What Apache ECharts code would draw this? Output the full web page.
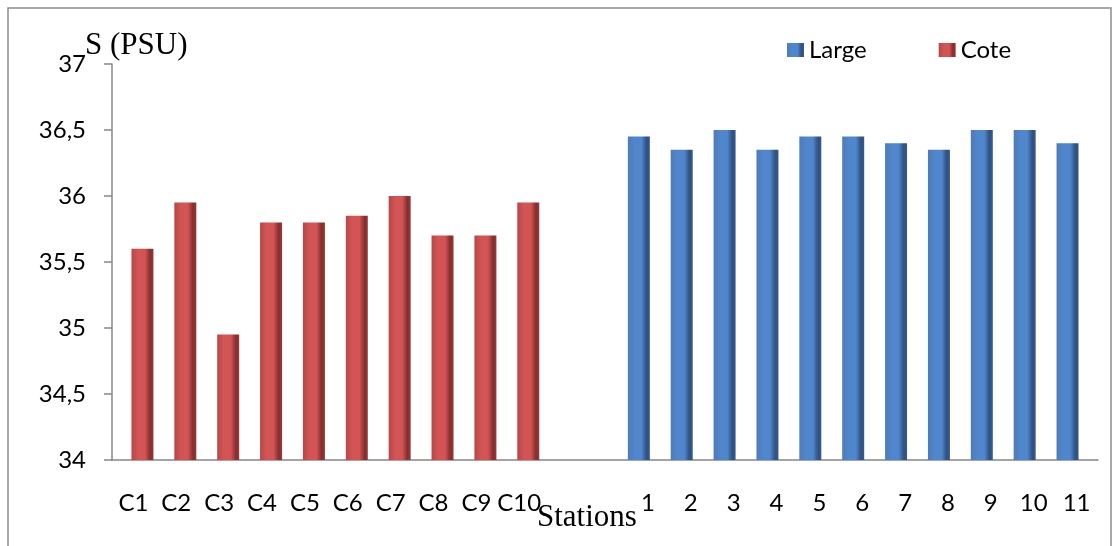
<!DOCTYPE html>
<html>
<head>
<meta charset="utf-8">
<script src="https://cdn.jsdelivr.net/npm/echarts@6/dist/echarts.min.js"></script>
<style>
html,body{margin:0;padding:0;background:#fff;}
#chart{width:1118px;height:546px;}
</style>
</head>
<body>
<div id="chart"></div>
<script>
// ---- data ----
var coteStations = ['C1','C2','C3','C4','C5','C6','C7','C8','C9','C10'];
var coteValues = [35.6, 35.95, 34.95, 35.8, 35.8, 35.85, 36.0, 35.7, 35.7, 35.95];
var spacerCategories = ['', ' '];
var largeStations = ['1','2','3','4','5','6','7','8','9','10','11'];
var largeValues = [36.45, 36.35, 36.5, 36.35, 36.45, 36.45, 36.4, 36.35, 36.5, 36.5, 36.4];
var yTicks = {min: 34, max: 37, interval: 0.5};
var seriesNames = ['Large', 'Cote'];
var yTitle = 'S (PSU)';
var xTitle = 'Stations';

// ---- build ----
var categories = coteStations.concat(spacerCategories, largeStations);
var nGap = spacerCategories.length;
var coteData = coteValues.concat(new Array(nGap + largeStations.length).fill(null));
var largeData = new Array(coteStations.length + nGap).fill(null).concat(largeValues);

function grad(edgeL, mid, edgeR, dark) {
  return new echarts.graphic.LinearGradient(0, 0, 1, 0, [
    {offset: 0, color: edgeL},
    {offset: 0.3, color: mid},
    {offset: 0.62, color: mid},
    {offset: 0.85, color: edgeR},
    {offset: 1, color: dark}
  ]);
}
var blueFill = grad('#4f7bb6', '#4f86cc', '#2e5283', '#38598a');
var redFill = grad('#b64747', '#d25454', '#862d2d', '#963a3a');

var chart = echarts.init(document.getElementById('chart'));
chart.setOption({
  backgroundColor: '#ffffff',
  animation: false,
  graphic: [{
    type: 'rect',
    shape: {x: 8, y: 8, width: 1103, height: 560},
    style: {fill: 'none', stroke: '#8c8c8c', lineWidth: 1.5},
    silent: true
  }, {
    type: 'text',
    left: 85, top: 30,
    style: {text: yTitle, font: '31px "Liberation Serif"', fill: '#000'}
  }, {
    type: 'text',
    left: 537, top: 502,
    style: {text: xTitle, font: '31px "Liberation Serif"', fill: '#000'}
  }],
  legend: {
    data: seriesNames,
    left: 782, top: 33,
    icon: 'rect',
    itemWidth: 17, itemHeight: 14, itemGap: 72,
    textStyle: {fontFamily: 'Lato', fontSize: 24, color: '#000'}
  },
  grid: {left: 112, right: 20, top: 64, bottom: 86},
  xAxis: {
    type: 'category',
    data: categories,
    axisLine: {lineStyle: {color: '#868686', width: 1.5}},
    axisTick: {length: 7, lineStyle: {color: '#868686', width: 1.5}, interval: 0},
    axisLabel: {interval: 0, margin: 31, fontFamily: 'Lato', fontSize: 24, color: '#000'}
  },
  yAxis: {
    type: 'value',
    min: yTicks.min, max: yTicks.max, interval: yTicks.interval,
    splitLine: {show: false},
    axisLine: {show: true, lineStyle: {color: '#868686', width: 1.5}},
    axisTick: {show: true, length: 8, lineStyle: {color: '#868686', width: 1.5}},
    axisLabel: {
      margin: 26, fontFamily: 'Lato', fontSize: 24, color: '#000',
      formatter: function (v) { return String(v).replace('.', ','); }
    }
  },
  series: [{
    name: seriesNames[0],
    type: 'bar',
    data: largeData,
    barWidth: 22,
    barGap: '-18%',
    itemStyle: {color: blueFill}
  }, {
    name: seriesNames[1],
    type: 'bar',
    data: coteData,
    barWidth: 22,
    itemStyle: {color: redFill}
  }]
});
</script>
</body>
</html>
